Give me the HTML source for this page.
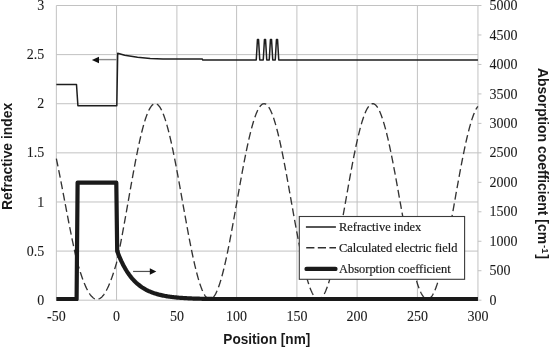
<!DOCTYPE html>
<html><head><meta charset="utf-8"><style>
html,body{margin:0;padding:0;background:#fff;}
body{width:550px;height:347px;position:relative;overflow:hidden;}
.tk{font-family:"Liberation Serif",serif;font-size:14px;fill:#1a1a1a;stroke:#1a1a1a;stroke-width:0.08px;}
.lg{font-family:"Liberation Serif",serif;font-size:12.4px;fill:#1a1a1a;stroke:#1a1a1a;stroke-width:0.2px;}
.ti{font-family:"Liberation Sans",sans-serif;font-weight:bold;font-size:14.8px;fill:#1a1a1a;}
</style></head><body>
<svg width="550" height="347" viewBox="0 0 550 347" style="position:absolute;left:0;top:0;will-change:transform">
<line x1="56.35" y1="300.20" x2="477.95" y2="300.20" stroke="#c2c2c2" stroke-width="1"/>
<line x1="56.35" y1="251.08" x2="477.95" y2="251.08" stroke="#c2c2c2" stroke-width="1"/>
<line x1="56.35" y1="201.97" x2="477.95" y2="201.97" stroke="#c2c2c2" stroke-width="1"/>
<line x1="56.35" y1="152.85" x2="477.95" y2="152.85" stroke="#c2c2c2" stroke-width="1"/>
<line x1="56.35" y1="103.73" x2="477.95" y2="103.73" stroke="#c2c2c2" stroke-width="1"/>
<line x1="56.35" y1="54.62" x2="477.95" y2="54.62" stroke="#c2c2c2" stroke-width="1"/>
<line x1="56.35" y1="5.50" x2="477.95" y2="5.50" stroke="#c2c2c2" stroke-width="1"/>
<line x1="56.35" y1="5.50" x2="56.35" y2="300.20" stroke="#c2c2c2" stroke-width="1"/>
<line x1="116.55" y1="5.50" x2="116.55" y2="300.20" stroke="#c2c2c2" stroke-width="1"/>
<line x1="176.90" y1="5.50" x2="176.90" y2="300.20" stroke="#c2c2c2" stroke-width="1"/>
<line x1="236.60" y1="5.50" x2="236.60" y2="300.20" stroke="#c2c2c2" stroke-width="1"/>
<line x1="296.90" y1="5.50" x2="296.90" y2="300.20" stroke="#c2c2c2" stroke-width="1"/>
<line x1="357.10" y1="5.50" x2="357.10" y2="300.20" stroke="#c2c2c2" stroke-width="1"/>
<line x1="417.40" y1="5.50" x2="417.40" y2="300.20" stroke="#c2c2c2" stroke-width="1"/>
<line x1="477.95" y1="5.50" x2="477.95" y2="300.20" stroke="#c2c2c2" stroke-width="1"/>
<line x1="477.95" y1="5.50" x2="481.45" y2="5.50" stroke="#c2c2c2" stroke-width="1"/>
<line x1="477.95" y1="34.97" x2="481.45" y2="34.97" stroke="#c2c2c2" stroke-width="1"/>
<line x1="477.95" y1="64.44" x2="481.45" y2="64.44" stroke="#c2c2c2" stroke-width="1"/>
<line x1="477.95" y1="93.91" x2="481.45" y2="93.91" stroke="#c2c2c2" stroke-width="1"/>
<line x1="477.95" y1="123.38" x2="481.45" y2="123.38" stroke="#c2c2c2" stroke-width="1"/>
<line x1="477.95" y1="152.85" x2="481.45" y2="152.85" stroke="#c2c2c2" stroke-width="1"/>
<line x1="477.95" y1="182.32" x2="481.45" y2="182.32" stroke="#c2c2c2" stroke-width="1"/>
<line x1="477.95" y1="211.79" x2="481.45" y2="211.79" stroke="#c2c2c2" stroke-width="1"/>
<line x1="477.95" y1="241.26" x2="481.45" y2="241.26" stroke="#c2c2c2" stroke-width="1"/>
<line x1="477.95" y1="270.73" x2="481.45" y2="270.73" stroke="#c2c2c2" stroke-width="1"/>
<line x1="477.95" y1="300.20" x2="481.45" y2="300.20" stroke="#c2c2c2" stroke-width="1"/>
<text x="44.3" y="304.80" text-anchor="end" class="tk">0</text>
<text x="44.3" y="255.68" text-anchor="end" class="tk">0.5</text>
<text x="44.3" y="206.57" text-anchor="end" class="tk">1</text>
<text x="44.3" y="157.45" text-anchor="end" class="tk">1.5</text>
<text x="44.3" y="108.33" text-anchor="end" class="tk">2</text>
<text x="44.3" y="59.22" text-anchor="end" class="tk">2.5</text>
<text x="44.3" y="10.10" text-anchor="end" class="tk">3</text>
<text x="489.6" y="304.80" class="tk">0</text>
<text x="489.6" y="275.33" class="tk">500</text>
<text x="489.6" y="245.86" class="tk">1000</text>
<text x="489.6" y="216.39" class="tk">1500</text>
<text x="489.6" y="186.92" class="tk">2000</text>
<text x="489.6" y="157.45" class="tk">2500</text>
<text x="489.6" y="127.98" class="tk">3000</text>
<text x="489.6" y="98.51" class="tk">3500</text>
<text x="489.6" y="69.04" class="tk">4000</text>
<text x="489.6" y="39.57" class="tk">4500</text>
<text x="489.6" y="10.10" class="tk">5000</text>
<text x="56.35" y="320.9" text-anchor="middle" class="tk">-50</text>
<text x="116.55" y="320.9" text-anchor="middle" class="tk">0</text>
<text x="176.90" y="320.9" text-anchor="middle" class="tk">50</text>
<text x="236.60" y="320.9" text-anchor="middle" class="tk">100</text>
<text x="296.90" y="320.9" text-anchor="middle" class="tk">150</text>
<text x="357.10" y="320.9" text-anchor="middle" class="tk">200</text>
<text x="417.40" y="320.9" text-anchor="middle" class="tk">250</text>
<text x="477.95" y="320.9" text-anchor="middle" class="tk">300</text>
<polyline points="56.35,158.71 56.85,161.09 57.35,163.51 57.85,165.94 58.35,168.41 58.85,170.89 59.35,173.40 59.85,175.93 60.35,178.48 60.85,181.05 61.35,183.63 61.85,186.22 62.35,188.83 62.85,191.44 63.35,194.06 63.85,196.69 64.35,199.32 64.85,201.95 65.35,204.58 65.85,207.21 66.35,209.83 66.85,212.45 67.35,215.06 67.85,217.66 68.35,220.25 68.85,222.82 69.35,225.38 69.85,227.93 70.35,230.45 70.85,232.95 71.35,235.43 71.85,237.89 72.35,240.32 72.85,242.72 73.35,245.09 73.85,247.43 74.35,249.73 74.85,252.00 75.35,254.24 75.85,256.44 76.35,258.59 76.85,260.61 77.35,262.38 77.85,264.11 78.35,265.82 78.85,267.48 79.35,269.12 79.85,270.72 80.35,272.28 80.85,273.80 81.35,275.29 81.85,276.74 82.35,278.15 82.85,279.52 83.35,280.85 83.85,282.13 84.35,283.38 84.85,284.58 85.35,285.74 85.85,286.85 86.35,287.92 86.85,288.95 87.35,289.93 87.85,290.86 88.35,291.74 88.85,292.58 89.35,293.37 89.85,294.12 90.35,294.81 90.85,295.46 91.35,296.05 91.85,296.60 92.35,297.10 92.85,297.54 93.35,297.94 93.85,298.29 94.35,298.58 94.85,298.83 95.35,299.02 95.85,299.16 96.35,299.26 96.85,299.30 97.35,299.29 97.85,299.23 98.35,299.11 98.85,298.95 99.35,298.74 99.85,298.47 100.35,298.16 100.85,297.79 101.35,297.37 101.85,296.91 102.35,296.39 102.85,295.82 103.35,295.21 103.85,294.54 104.35,293.83 104.85,293.07 105.35,292.26 105.85,291.40 106.35,290.50 106.85,289.55 107.35,288.56 107.85,287.51 108.35,286.43 108.85,285.30 109.35,284.12 109.85,282.91 110.35,281.65 110.85,280.34 111.35,279.00 111.85,277.62 112.35,276.19 112.85,274.73 113.35,273.23 113.85,271.69 114.35,270.12 114.85,268.51 115.35,266.86 115.85,265.18 116.35,263.47 116.85,261.48 117.35,259.21 117.85,256.89 118.35,254.52 118.85,252.11 119.35,249.65 119.85,247.16 120.35,244.62 120.85,242.05 121.35,239.45 121.85,236.81 122.35,234.14 122.85,231.45 123.35,228.73 123.85,225.98 124.35,223.22 124.85,220.44 125.35,217.64 125.85,214.82 126.35,212.00 126.85,209.17 127.35,206.33 127.85,203.49 128.35,200.64 128.85,197.80 129.35,194.96 129.85,192.12 130.35,189.29 130.85,186.48 131.35,183.67 131.85,180.88 132.35,178.11 132.85,175.36 133.35,172.63 133.85,169.93 134.35,167.25 134.85,164.60 135.35,161.98 135.85,159.39 136.35,156.84 136.85,154.33 137.35,151.86 137.85,149.43 138.35,147.04 138.85,144.71 139.35,142.41 139.85,140.17 140.35,137.98 140.85,135.85 141.35,133.77 141.85,131.74 142.35,129.78 142.85,127.88 143.35,126.03 143.85,124.26 144.35,122.54 144.85,120.90 145.35,119.32 145.85,117.82 146.35,116.38 146.85,115.01 147.35,113.72 147.85,112.51 148.35,111.36 148.85,110.30 149.35,109.31 149.85,108.40 150.35,107.57 150.85,106.81 151.35,106.14 151.85,105.55 152.35,105.04 152.85,104.61 153.35,104.27 153.85,104.00 154.35,103.82 154.85,103.72 155.35,103.70 155.85,103.77 156.35,103.91 156.85,104.14 157.35,104.45 157.85,104.83 158.35,105.30 158.85,105.85 159.35,106.47 159.85,107.18 160.35,107.96 160.85,108.82 161.35,109.76 161.85,110.77 162.35,111.86 162.85,113.02 163.35,114.26 163.85,115.57 164.35,116.94 164.85,118.39 165.35,119.91 165.85,121.49 166.35,123.15 166.85,124.86 167.35,126.64 167.85,128.48 168.35,130.38 168.85,132.34 169.35,134.36 169.85,136.44 170.35,138.56 170.85,140.74 171.35,142.97 171.85,145.25 172.35,147.58 172.85,149.94 173.35,152.36 173.85,154.81 174.35,157.30 174.85,159.83 175.35,162.39 175.85,164.99 176.35,167.61 176.85,170.26 177.35,172.94 177.85,175.64 178.35,178.37 178.85,181.11 179.35,183.87 179.85,186.65 180.35,189.43 180.85,192.23 181.35,195.03 181.85,197.84 182.35,200.66 182.85,203.47 183.35,206.28 183.85,209.09 184.35,211.89 184.85,214.68 185.35,217.47 185.85,220.23 186.35,222.99 186.85,225.72 187.35,228.44 187.85,231.13 188.35,233.80 188.85,236.44 189.35,239.06 189.85,241.64 190.35,244.19 190.85,246.70 191.35,249.18 191.85,251.61 192.35,254.01 192.85,256.36 193.35,258.67 193.85,260.93 194.35,263.13 194.85,265.29 195.35,267.40 195.85,269.45 196.35,271.45 196.85,273.38 197.35,275.26 197.85,277.08 198.35,278.83 198.85,280.52 199.35,282.15 199.85,283.71 200.35,285.20 200.85,286.62 201.35,287.97 201.85,289.25 202.35,290.45 202.85,291.58 203.35,292.64 203.85,293.62 204.35,294.53 204.85,295.36 205.35,296.11 205.85,296.78 206.35,297.38 206.85,297.89 207.35,298.33 207.85,298.69 208.35,298.96 208.85,299.15 209.35,299.27 209.85,299.30 210.35,299.25 210.85,299.12 211.35,298.91 211.85,298.61 212.35,298.24 212.85,297.78 213.35,297.24 213.85,296.63 214.35,295.93 214.85,295.16 215.35,294.30 215.85,293.37 216.35,292.36 216.85,291.28 217.35,290.12 217.85,288.88 218.35,287.58 218.85,286.20 219.35,284.75 219.85,283.23 220.35,281.64 220.85,279.99 221.35,278.26 221.85,276.48 222.35,274.63 222.85,272.72 223.35,270.75 223.85,268.73 224.35,266.65 224.85,264.51 225.35,262.32 225.85,260.08 226.35,257.79 226.85,255.45 227.35,253.07 227.85,250.64 228.35,248.18 228.85,245.67 229.35,243.13 229.85,240.55 230.35,237.94 230.85,235.30 231.35,232.64 231.85,229.94 232.35,227.22 232.85,224.48 233.35,221.72 233.85,218.95 234.35,216.16 234.85,213.35 235.35,210.54 235.85,207.72 236.35,204.89 236.85,202.07 237.35,199.24 237.85,196.41 238.35,193.59 238.85,190.77 239.35,187.96 239.85,185.17 240.35,182.39 240.85,179.62 241.35,176.87 241.85,174.14 242.35,171.44 242.85,168.76 243.35,166.11 243.85,163.49 244.35,160.90 244.85,158.34 245.35,155.82 245.85,153.34 246.35,150.90 246.85,148.50 247.35,146.14 247.85,143.83 248.35,141.57 248.85,139.36 249.35,137.20 249.85,135.10 250.35,133.05 250.85,131.06 251.35,129.12 251.85,127.25 252.35,125.44 252.85,123.70 253.35,122.01 253.85,120.40 254.35,118.85 254.85,117.37 255.35,115.97 255.85,114.63 256.35,113.37 256.85,112.18 257.35,111.06 257.85,110.02 258.35,109.06 258.85,108.18 259.35,107.37 259.85,106.64 260.35,105.99 260.85,105.42 261.35,104.94 261.85,104.53 262.35,104.20 262.85,103.96 263.35,103.79 263.85,103.71 264.35,103.71 264.85,103.79 265.35,103.95 265.85,104.20 266.35,104.52 266.85,104.93 267.35,105.42 267.85,105.98 268.35,106.63 268.85,107.36 269.35,108.16 269.85,109.04 270.35,110.00 270.85,111.04 271.35,112.15 271.85,113.33 272.35,114.59 272.85,115.92 273.35,117.33 273.85,118.80 274.35,120.34 274.85,121.95 275.35,123.62 275.85,125.36 276.35,127.17 276.85,129.03 277.35,130.96 277.85,132.95 278.35,134.99 278.85,137.09 279.35,139.24 279.85,141.44 280.35,143.70 280.85,146.00 281.35,148.34 281.85,150.74 282.35,153.17 282.85,155.65 283.35,158.16 283.85,160.71 284.35,163.29 284.85,165.91 285.35,168.55 285.85,171.22 286.35,173.92 286.85,176.64 287.35,179.38 287.85,182.14 288.35,184.92 288.85,187.71 289.35,190.51 289.85,193.32 290.35,196.14 290.85,198.96 291.35,201.78 291.85,204.61 292.35,207.43 292.85,210.24 293.35,213.05 293.85,215.85 294.35,218.64 294.85,221.41 295.35,224.17 295.85,226.90 296.35,229.62 296.85,232.31 297.35,234.98 297.85,237.62 298.35,240.23 298.85,242.80 299.35,245.35 299.85,247.85 300.35,250.32 300.85,252.74 301.35,255.13 301.85,257.47 302.35,259.76 302.85,262.00 303.35,264.20 303.85,266.34 304.35,268.42 304.85,270.46 305.35,272.43 305.85,274.34 306.35,276.20 306.85,277.99 307.35,279.72 307.85,281.38 308.35,282.97 308.85,284.50 309.35,285.96 309.85,287.35 310.35,288.67 310.85,289.91 311.35,291.08 311.85,292.18 312.35,293.20 312.85,294.14 313.35,295.01 313.85,295.79 314.35,296.50 314.85,297.14 315.35,297.69 315.85,298.16 316.35,298.55 316.85,298.86 317.35,299.08 317.85,299.23 318.35,299.30 318.85,299.28 319.35,299.18 319.85,299.00 320.35,298.74 320.85,298.39 321.35,297.97 321.85,297.46 322.35,296.87 322.85,296.21 323.35,295.46 323.85,294.64 324.35,293.73 324.85,292.75 325.35,291.69 325.85,290.56 326.35,289.35 326.85,288.07 327.35,286.71 327.85,285.29 328.35,283.79 328.85,282.22 329.35,280.59 329.85,278.89 330.35,277.12 330.85,275.29 331.35,273.40 331.85,271.45 332.35,269.44 332.85,267.38 333.35,265.25 333.85,263.08 334.35,260.85 334.85,258.57 335.35,256.25 335.85,253.88 336.35,251.46 336.85,249.00 337.35,246.51 337.85,243.97 338.35,241.40 338.85,238.80 339.35,236.16 339.85,233.50 340.35,230.80 340.85,228.09 341.35,225.35 341.85,222.59 342.35,219.81 342.85,217.02 343.35,214.22 343.85,211.40 344.35,208.58 344.85,205.75 345.35,202.92 345.85,200.08 346.35,197.25 346.85,194.42 347.35,191.60 347.85,188.78 348.35,185.98 348.85,183.19 349.35,180.41 349.85,177.65 350.35,174.91 350.85,172.20 351.35,169.50 351.85,166.84 352.35,164.20 352.85,161.60 353.35,159.03 353.85,156.49 354.35,154.00 354.85,151.54 355.35,149.12 355.85,146.75 356.35,144.43 356.85,142.15 357.35,139.92 357.85,137.75 358.35,135.62 358.85,133.56 359.35,131.55 359.85,129.60 360.35,127.71 360.85,125.88 361.35,124.11 361.85,122.41 362.35,120.78 362.85,119.21 363.35,117.71 363.85,116.29 364.35,114.93 364.85,113.65 365.35,112.44 365.85,111.31 366.35,110.25 366.85,109.27 367.35,108.36 367.85,107.54 368.35,106.79 368.85,106.13 369.35,105.54 369.85,105.03 370.35,104.61 370.85,104.26 371.35,104.00 371.85,103.82 372.35,103.72 372.85,103.70 373.35,103.77 373.85,103.91 374.35,104.14 374.85,104.44 375.35,104.83 375.85,105.30 376.35,105.84 376.85,106.46 377.35,107.17 377.85,107.95 378.35,108.80 378.85,109.74 379.35,110.75 379.85,111.83 380.35,112.99 380.85,114.22 381.35,115.52 381.85,116.90 382.35,118.34 382.85,119.85 383.35,121.43 383.85,123.08 384.35,124.79 384.85,126.56 385.35,128.40 385.85,130.29 386.35,132.25 386.85,134.26 387.35,136.32 387.85,138.44 388.35,140.62 388.85,142.84 389.35,145.11 389.85,147.43 390.35,149.79 390.85,152.20 391.35,154.64 391.85,157.12 392.35,159.65 392.85,162.20 393.35,164.79 393.85,167.41 394.35,170.05 394.85,172.72 395.35,175.42 395.85,178.14 396.35,180.87 396.85,183.63 397.35,186.39 397.85,189.18 398.35,191.97 398.85,194.76 399.35,197.57 399.85,200.38 400.35,203.19 400.85,205.99 401.35,208.80 401.85,211.59 402.35,214.38 402.85,217.16 403.35,219.93 403.85,222.68 404.35,225.41 404.85,228.12 405.35,230.81 405.85,233.48 406.35,236.12 406.85,238.73 407.35,241.31 407.85,243.86 408.35,246.38 408.85,248.85 409.35,251.29 409.85,253.69 410.35,256.04 410.85,258.35 411.35,260.61 411.85,262.82 412.35,264.98 412.85,267.09 413.35,269.15 413.85,271.15 414.35,273.09 414.85,274.98 415.35,276.80 415.85,278.56 416.35,280.26 416.85,281.89 417.35,283.46 417.85,284.95 418.35,286.38 418.85,287.74 419.35,289.03 419.85,290.25 420.35,291.39 420.85,292.46 421.35,293.46 421.85,294.37 422.35,295.22 422.85,295.98 423.35,296.67 423.85,297.27 424.35,297.80 424.85,298.25 425.35,298.62 425.85,298.91 426.35,299.12 426.85,299.25 427.35,299.30 427.85,299.27 428.35,299.15 428.85,298.96 429.35,298.68 429.85,298.33 430.35,297.89 430.85,297.37 431.35,296.78 431.85,296.10 432.35,295.35 432.85,294.51 433.35,293.60 433.85,292.62 434.35,291.56 434.85,290.42 435.35,289.21 435.85,287.93 436.35,286.57 436.85,285.14 437.35,283.65 437.85,282.09 438.35,280.46 438.85,278.76 439.35,277.00 439.85,275.18 440.35,273.29 440.85,271.35 441.35,269.35 441.85,267.29 442.35,265.18 442.85,263.01 443.35,260.79 443.85,258.53 444.35,256.22 444.85,253.86 445.35,251.45 445.85,249.01 446.35,246.53 446.85,244.01 447.35,241.45 447.85,238.86 448.35,236.24 448.85,233.59 449.35,230.92 449.85,228.22 450.35,225.49 450.85,222.75 451.35,219.99 451.85,217.22 452.35,214.43 452.85,211.63 453.35,208.82 453.85,206.01 454.35,203.19 454.85,200.37 455.35,197.55 455.85,194.74 456.35,191.93 456.85,189.13 457.35,186.34 457.85,183.56 458.35,180.80 458.85,178.05 459.35,175.33 459.85,172.62 460.35,169.94 460.85,167.29 461.35,164.66 461.85,162.06 462.35,159.50 462.85,156.97 463.35,154.48 463.85,152.03 464.35,149.62 464.85,147.25 465.35,144.93 465.85,142.65 466.35,140.43 466.85,138.25 467.35,136.13 467.85,134.06 468.35,132.05 468.85,130.09 469.35,128.20 469.85,126.36 470.35,124.59 470.85,122.88 471.35,121.23 471.85,119.66 472.35,118.15 472.85,116.71 473.35,115.34 473.85,114.04 474.35,112.82 474.85,111.67 475.35,110.59 475.85,109.59 476.35,108.66 476.85,107.81 477.35,107.04 477.85,106.35" fill="none" stroke="#333" stroke-width="1.35" stroke-dasharray="7.8 3.8"/>
<polyline points="56.35,84.45 76.50,84.45 77.90,105.65 116.80,105.65 117.70,53.30 124.70,55.20 137.50,57.20 150.20,58.40 163.00,59.00 170.00,58.90 202.30,58.90 202.60,59.90 256.25,59.90 257.45,39.60 258.55,39.60 259.75,59.90 263.25,59.90 264.45,39.60 265.55,39.60 266.75,59.90 269.25,59.90 270.45,39.60 271.55,39.60 272.75,59.90 275.25,59.90 276.45,39.60 277.55,39.60 278.75,59.90 477.95,59.90" fill="none" stroke="#1e1e1e" stroke-width="1.5" stroke-linejoin="round"/>
<clipPath id="pc"><rect x="0" y="0" width="550" height="300.9"/></clipPath>
<polyline clip-path="url(#pc)" points="56.35,299.20 76.60,299.20 77.60,182.60 116.30,182.60 117.20,251.20 118.20,253.82 119.20,256.30 120.20,258.64 121.20,260.86 122.20,262.95 123.20,264.94 124.20,266.81 125.20,268.58 126.20,270.25 127.20,271.83 128.20,273.33 129.20,274.74 130.20,276.08 131.20,277.34 132.20,278.53 133.20,279.66 134.20,280.73 135.20,281.74 136.20,282.69 137.20,283.59 138.20,284.45 139.20,285.25 140.20,286.02 141.20,286.74 142.20,287.42 143.20,288.06 144.20,288.67 145.20,289.24 146.20,289.79 147.20,290.30 148.20,290.79 149.20,291.25 150.20,291.68 151.20,292.09 152.20,292.48 153.20,292.85 154.20,293.20 155.20,293.52 156.20,293.83 157.20,294.13 158.20,294.40 159.20,294.67 160.20,294.91 161.20,295.15 162.20,295.37 163.20,295.58 164.20,295.78 165.20,295.96 166.20,296.14 167.20,296.31 168.20,296.47 169.20,296.61 170.20,296.76 171.20,296.89 172.20,297.02 173.20,297.13 174.20,297.25 175.20,297.35 176.20,297.46 177.20,297.55 178.20,297.64 179.20,297.73 180.20,297.81 181.20,297.88 182.20,297.95 183.20,298.02 184.20,298.09 185.20,298.15 186.20,298.21 187.20,298.26 188.20,298.31 189.20,298.36 190.20,298.41 191.20,298.45 192.20,298.49 193.20,298.53 194.20,298.57 195.20,298.60 196.20,298.63 197.20,298.66 198.20,298.69 199.20,298.72 200.20,298.75 201.20,298.77 202.20,298.80 203.20,298.82 204.20,298.84 205.20,298.86 206.20,298.88 207.20,298.89 208.20,298.91 209.20,298.93 210.20,298.94 211.20,298.96 212.20,298.97 213.20,298.98 214.20,298.99 215.20,299.00 216.20,299.02 217.20,299.03 218.20,299.04 219.20,299.04 220.20,299.05 221.20,299.06 222.20,299.07 223.20,299.08 224.20,299.08 225.20,299.09 226.20,299.09 227.20,299.10 228.20,299.11 229.20,299.11 230.20,299.12 231.20,299.12 232.20,299.12 233.20,299.13 234.20,299.13 235.20,299.14 236.20,299.14 237.20,299.14 238.20,299.15 239.20,299.15 240.20,299.15 241.20,299.15 242.20,299.16 243.20,299.16 244.20,299.16 245.20,299.16 246.20,299.17 247.20,299.17 248.20,299.17 249.20,299.17 250.20,299.17 251.20,299.17 252.20,299.18 253.20,299.18 254.20,299.18 255.20,299.18 256.20,299.18 257.20,299.18 258.20,299.18 259.20,299.18 260.20,299.18 261.20,299.19 262.20,299.19 263.20,299.19 264.20,299.19 265.20,299.19 266.20,299.19 267.20,299.19 268.20,299.19 269.20,299.19 270.20,299.19 271.20,299.19 272.20,299.19 273.20,299.19 274.20,299.19 275.20,299.19 276.20,299.19 277.20,299.19 278.20,299.19 279.20,299.19 280.20,299.19 281.20,299.20 282.20,299.20 283.20,299.20 284.20,299.20 285.20,299.20 286.20,299.20 287.20,299.20 288.20,299.20 289.20,299.20 290.20,299.20 291.20,299.20 292.20,299.20 293.20,299.20 294.20,299.20 295.20,299.20 296.20,299.20 297.20,299.20 298.20,299.20 299.20,299.20 300.20,299.20 301.20,299.20 302.20,299.20 303.20,299.20 304.20,299.20 305.20,299.20 306.20,299.20 307.20,299.20 308.20,299.20 309.20,299.20 310.20,299.20 311.20,299.20 312.20,299.20 313.20,299.20 314.20,299.20 315.20,299.20 316.20,299.20 317.20,299.20 318.20,299.20 319.20,299.20 320.20,299.20 321.20,299.20 322.20,299.20 323.20,299.20 324.20,299.20 325.20,299.20 326.20,299.20 327.20,299.20 328.20,299.20 329.20,299.20 330.20,299.20 331.20,299.20 332.20,299.20 333.20,299.20 334.20,299.20 335.20,299.20 336.20,299.20 337.20,299.20 338.20,299.20 339.20,299.20 340.20,299.20 341.20,299.20 342.20,299.20 343.20,299.20 344.20,299.20 345.20,299.20 346.20,299.20 347.20,299.20 348.20,299.20 349.20,299.20 350.20,299.20 351.20,299.20 352.20,299.20 353.20,299.20 354.20,299.20 355.20,299.20 356.20,299.20 357.20,299.20 358.20,299.20 359.20,299.20 360.20,299.20 361.20,299.20 362.20,299.20 363.20,299.20 364.20,299.20 365.20,299.20 366.20,299.20 367.20,299.20 368.20,299.20 369.20,299.20 370.20,299.20 371.20,299.20 372.20,299.20 373.20,299.20 374.20,299.20 375.20,299.20 376.20,299.20 377.20,299.20 378.20,299.20 379.20,299.20 380.20,299.20 381.20,299.20 382.20,299.20 383.20,299.20 384.20,299.20 385.20,299.20 386.20,299.20 387.20,299.20 388.20,299.20 389.20,299.20 390.20,299.20 391.20,299.20 392.20,299.20 393.20,299.20 394.20,299.20 395.20,299.20 396.20,299.20 397.20,299.20 398.20,299.20 399.20,299.20 400.20,299.20 401.20,299.20 402.20,299.20 403.20,299.20 404.20,299.20 405.20,299.20 406.20,299.20 407.20,299.20 408.20,299.20 409.20,299.20 410.20,299.20 411.20,299.20 412.20,299.20 413.20,299.20 414.20,299.20 415.20,299.20 416.20,299.20 417.20,299.20 418.20,299.20 419.20,299.20 420.20,299.20 421.20,299.20 422.20,299.20 423.20,299.20 424.20,299.20 425.20,299.20 426.20,299.20 427.20,299.20 428.20,299.20 429.20,299.20 430.20,299.20 431.20,299.20 432.20,299.20 433.20,299.20 434.20,299.20 435.20,299.20 436.20,299.20 437.20,299.20 438.20,299.20 439.20,299.20 440.20,299.20 441.20,299.20 442.20,299.20 443.20,299.20 444.20,299.20 445.20,299.20 446.20,299.20 447.20,299.20 448.20,299.20 449.20,299.20 450.20,299.20 451.20,299.20 452.20,299.20 453.20,299.20 454.20,299.20 455.20,299.20 456.20,299.20 457.20,299.20 458.20,299.20 459.20,299.20 460.20,299.20 461.20,299.20 462.20,299.20 463.20,299.20 464.20,299.20 465.20,299.20 466.20,299.20 467.20,299.20 468.20,299.20 469.20,299.20 470.20,299.20 471.20,299.20 472.20,299.20 473.20,299.20 474.20,299.20 475.20,299.20 476.20,299.20 477.20,299.20 477.95,299.20" fill="none" stroke="#1a1a1a" stroke-width="4.2" stroke-linejoin="round"/>
<line x1="98.5" y1="59.6" x2="116.8" y2="59.6" stroke="#8c8c8c" stroke-width="1.4"/>
<polygon points="91.9,60 99,56.8 99,63.2" fill="#111"/>
<line x1="133.1" y1="271.45" x2="150.5" y2="271.45" stroke="#505050" stroke-width="1.2"/>
<polygon points="156.3,271.5 149.8,268.3 149.8,274.7" fill="#111"/>
<rect x="299.3" y="216.5" width="165.3" height="62.8" fill="#fff" stroke="#3a3a3a" stroke-width="1.1"/>
<line x1="305.9" y1="227" x2="335.9" y2="227" stroke="#1e1e1e" stroke-width="1.5"/>
<line x1="306.2" y1="247.8" x2="336" y2="247.8" stroke="#303030" stroke-width="1.5" stroke-dasharray="8.2 3.4"/>
<line x1="306.6" y1="268.9" x2="335.4" y2="268.9" stroke="#1a1a1a" stroke-width="4.4" stroke-linecap="round"/>
<text x="339.1" y="231" class="lg">Refractive index</text>
<text x="339.1" y="251.8" class="lg">Calculated electric field</text>
<text x="339.1" y="272.5" class="lg">Absorption coefficient</text>
<text x="223.3" y="343.8" textLength="87" lengthAdjust="spacingAndGlyphs" class="ti">Position [nm]</text>
<text transform="translate(11.9,209.9) rotate(-90)" textLength="107" lengthAdjust="spacingAndGlyphs" class="ti">Refractive index</text>
<text transform="translate(537.5,68.0) rotate(90)" class="ti"><tspan textLength="176" lengthAdjust="spacingAndGlyphs">Absorption coefficient [cm</tspan><tspan dx="1" dy="-4.6" font-size="9.5">-1</tspan><tspan dx="0.8" dy="4.6">]</tspan></text>
</svg>
</body></html>
